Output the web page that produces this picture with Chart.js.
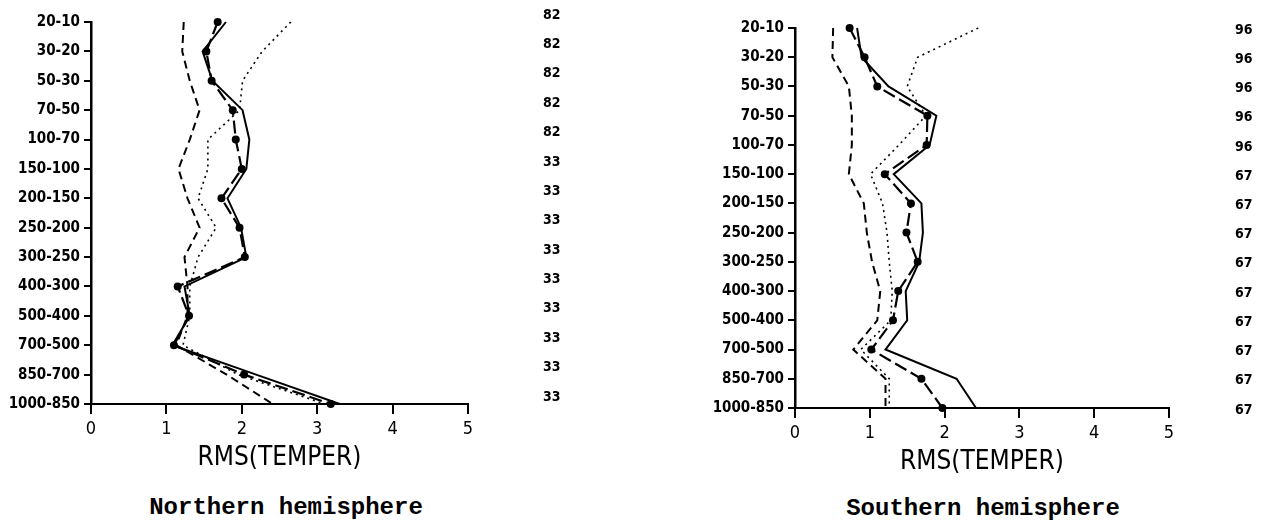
<!DOCTYPE html>
<html>
<head>
<meta charset="utf-8">
<script src="https://cdn.jsdelivr.net/npm/chart.js@4.4.0/dist/chart.umd.min.js"></script>
<style>
  html, body { margin: 0; padding: 0; background: #fff; }
  body { width: 1277px; height: 532px; position: relative; overflow: hidden; }
  .panel { position: absolute; top: 0; }
  #north { left: 0; width: 640px; height: 471px; }
  #south { left: 704px; width: 573px; height: 475px; }
  .caption {
    position: absolute; transform: translateX(-50%); white-space: nowrap; line-height: 1;
    font-family: 'Liberation Mono', monospace; font-weight: bold; font-size: 24px; color: #000;
  }
</style>
</head>
<body>
<div class="panel" id="north"><canvas id="north-chart"></canvas></div>
<div class="panel" id="south"><canvas id="south-chart"></canvas></div>
<div class="caption" style="left:286px; top:496px;">Northern hemisphere</div>
<div class="caption" style="left:983px; top:497px;">Southern hemisphere</div>
<script>
// pressure layers (hPa), top of the atmosphere first
const levels = ['20-10', '30-20', '50-30', '70-50', '100-70', '150-100', '200-150', '250-200',
                '300-250', '400-300', '500-400', '700-500', '850-700', '1000-850'];
const rmsTicks = [0, 1, 2, 3, 4, 5];

// number of stations per layer (right-hand column)
const northCounts = ['82', '82', '82', '82', '82', '33', '33', '33', '33', '33', '33', '33', '33', '33'];
const southCounts = ['96', '96', '96', '96', '96', '67', '67', '67', '67', '67', '67', '67', '67', '67'];

// RMS temperature, northern hemisphere
const northSolid  = [1.79, 1.48, 1.61, 2.01, 2.10, 2.06, 1.81, 1.99, 2.06, 1.24, 1.31, 1.08, 2.19, 3.30];
const northDots   = [1.68, 1.53, 1.60, 1.88, 1.92, 2.00, 1.73, 1.97, 2.04, 1.15, 1.30, 1.10, 2.03, 3.18];
const northDashed = [1.23, 1.21, 1.31, 1.44, 1.31, 1.16, 1.28, 1.44, 1.24, 1.28, 1.28, 1.13, 1.80, 2.41];
const northDotted = [2.65, 2.27, 2.01, 1.97, 1.55, 1.55, 1.42, 1.66, 1.42, 1.31, 1.31, 1.22, 1.95, 3.10];

// RMS temperature, southern hemisphere
const southSolid  = [0.83, 0.89, 1.25, 1.89, 1.80, 1.32, 1.69, 1.71, 1.66, 1.48, 1.50, 1.21, 2.16, 2.42];
const southDots   = [0.73, 0.93, 1.10, 1.77, 1.76, 1.20, 1.55, 1.49, 1.64, 1.38, 1.31, 1.02, 1.69, 1.97];
const southDashed = [0.51, 0.50, 0.72, 0.76, 0.76, 0.72, 0.92, 0.96, 1.03, 1.14, 1.10, 0.78, 1.21, 1.21];
const southDotted = [2.45, 1.64, 1.50, 1.75, 1.39, 1.01, 1.17, 1.23, 1.26, 1.30, 1.28, 0.88, 1.26, 1.26];

const plotFont = "'DejaVu Sans Condensed', 'DejaVu Sans', sans-serif";

function lineSet(data, dash, width, pointRadius) {
    return {
        data: data,
        borderColor: '#000',
        backgroundColor: '#000',
        borderWidth: width,
        borderDash: dash,
        pointRadius: pointRadius,
        pointBackgroundColor: '#000',
        pointBorderWidth: 0,
        tension: 0,
        fill: false
    };
}

function makePanel(canvasId, counts, solid, dots, dashed, dotted, topPad, countPad, countShift, rightWidth) {
    const ctx = document.getElementById(canvasId).getContext('2d');
    return new Chart(ctx, {
        type: 'line',
        data: {
            labels: levels,
            datasets: [
                lineSet(dotted, [2, 4], 1.6, 0),
                lineSet(dashed, [8, 5], 2, 0),
                lineSet(solid, [], 2, 0),
                lineSet(dots, [13, 5], 2.2, 4)
            ]
        },
        options: {
            indexAxis: 'y',
            responsive: true,
            maintainAspectRatio: false,
            animation: false,
            layout: { padding: { top: topPad, left: 0, right: 0, bottom: 0 } },
            plugins: {
                legend: { display: false },
                tooltip: { enabled: false }
            },
            scales: {
                x: {
                    type: 'linear',
                    min: rmsTicks[0],
                    max: rmsTicks[rmsTicks.length - 1],
                    ticks: { stepSize: 1, color: '#000', padding: 6, font: { family: plotFont, size: 18, lineHeight: 1 } },
                    grid: { drawOnChartArea: false, drawTicks: true, tickLength: 10, color: '#000', lineWidth: 2 },
                    border: { color: '#000', width: 2 },
                    title: {
                        display: true,
                        text: 'RMS(TEMPER)',
                        color: '#000',
                        font: { family: plotFont, size: 26, lineHeight: 1 },
                        padding: { top: 1, bottom: 0 }
                    }
                },
                y: {
                    type: 'category',
                    position: 'left',
                    ticks: { color: '#000', padding: 4, font: { family: plotFont, size: 15, weight: 'bold' } },
                    grid: { drawOnChartArea: false, drawTicks: true, tickLength: 7, color: '#000', lineWidth: 2 },
                    border: { color: '#000', width: 2.5 },
                    afterFit: function(scale) { scale.width = 91; }
                },
                y2: {
                    type: 'category',
                    axis: 'y',
                    position: 'right',
                    labels: counts,
                    ticks: { color: '#000', padding: countPad, labelOffset: countShift,
                             font: { family: plotFont, size: 14, weight: 'bold' } },
                    grid: { display: false, drawTicks: false },
                    border: { display: false },
                    afterFit: function(scale) {
                        scale.width = rightWidth;
                        scale.paddingTop = 0;
                        scale.paddingBottom = 0;
                    }
                }
            }
        }
    });
}

makePanel('north-chart', northCounts, northSolid, northDots, northDashed, northDotted, 22, 75, -7, 172);
makePanel('south-chart', southCounts, southSolid, southDots, southDashed, southDotted, 28, 66, 2, 108);
</script>
</body>
</html>
